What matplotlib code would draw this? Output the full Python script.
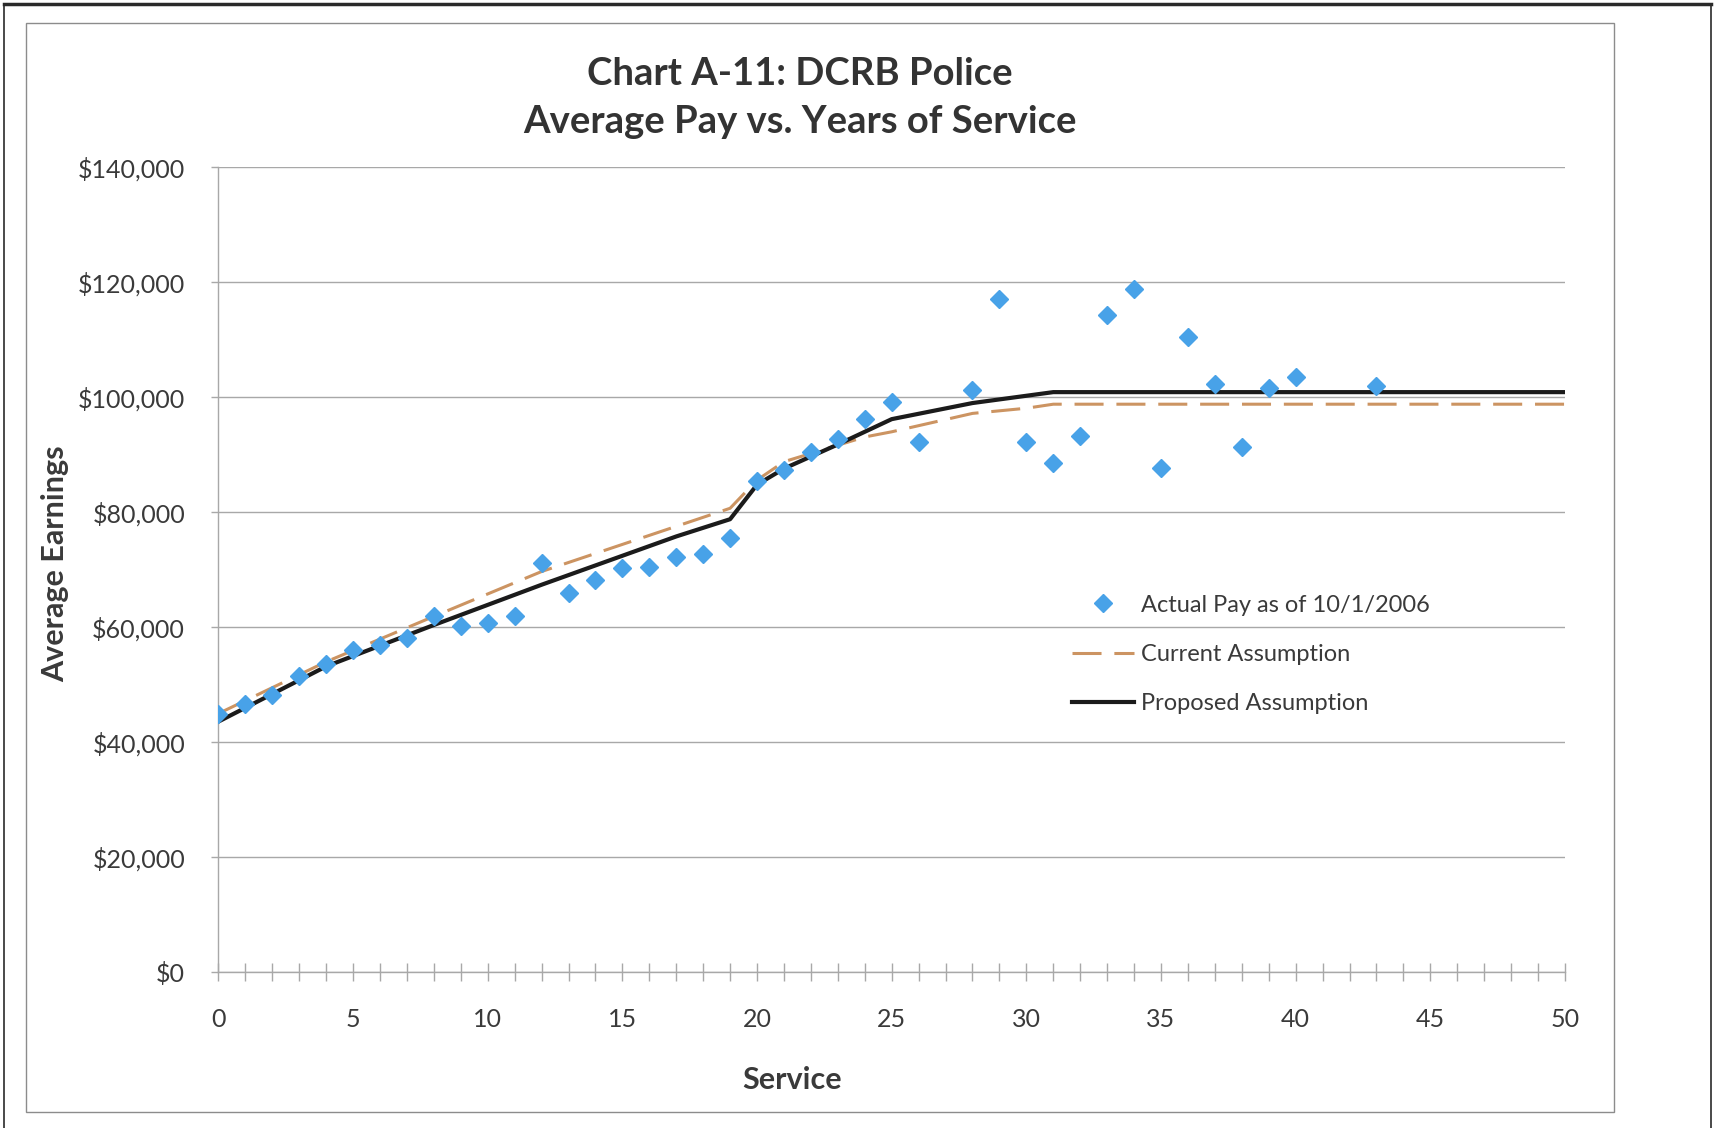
import matplotlib
matplotlib.use("Agg")
import matplotlib.pyplot as plt
from matplotlib.patches import Rectangle
from matplotlib.lines import Line2D
from matplotlib.ticker import MultipleLocator, FuncFormatter

# Actual pay as of 10/1/2006
actual_years = list(range(0, 27)) + list(range(28, 41)) + [43]
actual_pay = [45000, 46600, 48200, 51500, 53600, 56100, 57000, 58100, 62000, 60300,
              60700, 61900, 71200, 66000, 68300, 70400, 70500, 72200, 72800, 75600,
              85400, 87400, 90500, 92800, 96200, 99200, 92300,
              101300, 117100, 92300, 88500, 93300, 114400, 118800, 87700, 110500,
              102400, 91400, 101700, 103500,
              101900]

# assumption curves (read at their bends)
current_years = [0, 4, 8, 12, 19, 20, 21, 24, 25, 28, 30, 31, 50]
current_pay = [45000, 54000, 61900, 69700, 80700, 85600, 88800, 93100, 94000, 97200,
               98100, 98800, 98800]
proposed_years = [0, 4, 8, 12, 17, 19, 20, 21, 23, 25, 28, 31, 50]
proposed_pay = [43600, 53200, 60400, 67400, 75800, 78800, 84800, 87600, 91800, 96200,
                99000, 100900, 100900]

title_lines = ["Chart A-11: DCRB Police", "Average Pay vs. Years of Service"]
series_names = ["Actual Pay as of 10/1/2006", "Current Assumption", "Proposed Assumption"]

plt.rcParams['font.family'] = ['Lato', 'DejaVu Sans']
txt = '#3a3a3a'
grid_c = '#a8a8a8'

fig = plt.figure(figsize=(17.17, 11.28), dpi=100)
ax = fig.add_axes([218.4/1717, 1 - 972.3/1128, 1346.6/1717, 805/1128])

ax.plot(current_years, current_pay, color='#cc9462', lw=2.2, dashes=(9.5, 4.2),
        label=series_names[1], zorder=3)
ax.plot(proposed_years, proposed_pay, color='#1b1b1b', lw=3.0,
        label=series_names[2], zorder=4)
ax.plot(actual_years, actual_pay, ls='none', marker='D', ms=9.3, color='#48a2e8',
        mec='#48a2e8', label=series_names[0], zorder=5)

ax.set_xlim(0, 50)
ax.set_ylim(0, 140000)
ax.xaxis.set_major_locator(MultipleLocator(5))
ax.xaxis.set_minor_locator(MultipleLocator(1))
ax.yaxis.set_major_locator(MultipleLocator(20000))
ax.yaxis.set_major_formatter(FuncFormatter(lambda v, p: "${:,.0f}".format(v)))

ax.grid(axis='y', color=grid_c, lw=1.0)
ax.set_axisbelow(True)
for s in ['top', 'right']:
    ax.spines[s].set_visible(False)
for s in ['left', 'bottom']:
    ax.spines[s].set_color(grid_c)
    ax.spines[s].set_linewidth(1.0)

ax.tick_params(axis='x', which='both', direction='inout', length=13, width=1,
               color=grid_c, labelsize=18, labelcolor=txt, pad=19)
ax.tick_params(axis='y', which='major', direction='out', length=5, width=1,
               color=grid_c, labelsize=18, labelcolor=txt, pad=19)

ax.set_xlabel("Service", fontsize=22, fontweight='bold', color=txt)
ax.xaxis.set_label_coords(0.426, -0.116)
ax.set_ylabel("Average Earnings", fontsize=22, fontweight='bold', color=txt)
ax.yaxis.set_label_coords(-0.111, 0.507)

# legend: marker first, then the two lines
h, l = ax.get_legend_handles_labels()
order = [2, 0, 1]
ax.legend([h[i] for i in order], [l[i] for i in order], loc='upper left',
          bbox_to_anchor=(0.634, 0.469), frameon=False, fontsize=17,
          handlelength=2.6, handletextpad=0.3, labelspacing=1.2,
          borderpad=0, borderaxespad=0, labelcolor=txt)

fig.text(800/1717, 1 - 74/1128, title_lines[0], ha='center', va='center',
         fontsize=27.5, fontweight='bold', color='#333333')
fig.text(800/1717, 1 - 122/1128, title_lines[1], ha='center', va='center',
         fontsize=27.5, fontweight='bold', color='#333333')

# chart area border and page edge
fig.add_artist(Rectangle((26/1717, 1 - 1112/1128), 1588/1717, 1089/1128,
                         transform=fig.transFigure, fill=False, ec='#8c8c8c', lw=1.0))
fig.add_artist(Rectangle((4/1717, -0.02), 1707/1717, 1.02 - 4/1128,
                         transform=fig.transFigure, fill=False, ec='#3a3a3a', lw=1.3))
fig.add_artist(Line2D([4/1717, 1711/1717], [1 - 4/1128, 1 - 4/1128],
                      transform=fig.transFigure, color='#2a2a2a', lw=2.5))

fig.savefig("out.png", dpi=100, facecolor='white')
